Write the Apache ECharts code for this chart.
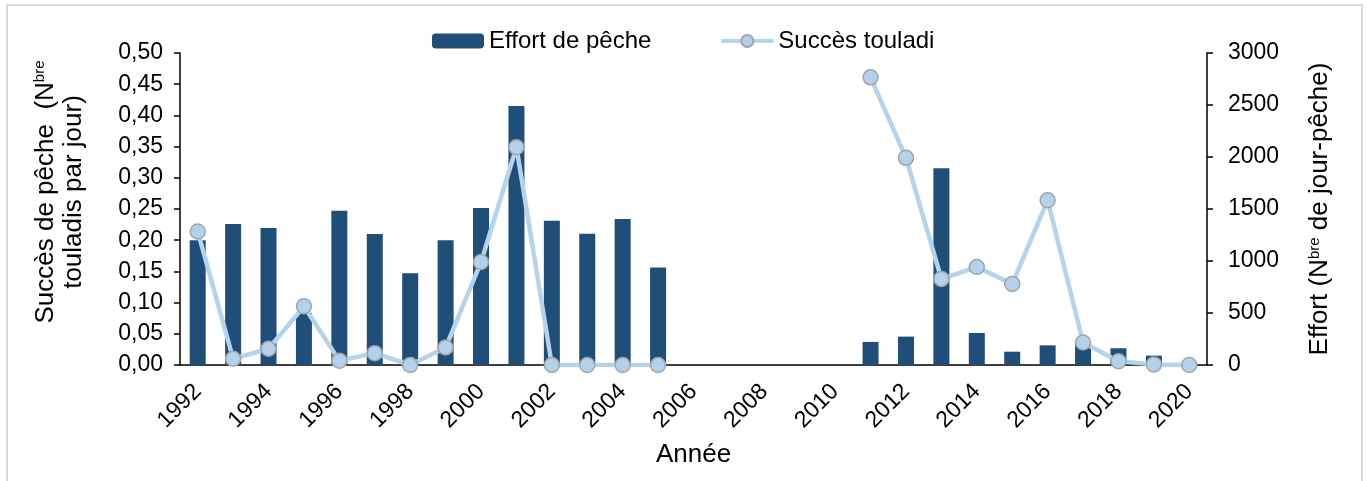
<!DOCTYPE html>
<html>
<head>
<meta charset="utf-8">
<script src="https://cdn.jsdelivr.net/npm/echarts@6/dist/echarts.min.js"></script>
<style>
  html, body { margin: 0; padding: 0; background: #fff; }
  #chart { width: 1367px; height: 481px; }
</style>
</head>
<body>
<div id="chart"></div>
<script>
const years = ['1992', '1993', '1994', '1995', '1996', '1997', '1998', '1999', '2000', '2001',
  '2002', '2003', '2004', '2005', '2006', '2007', '2008', '2009', '2010', '2011',
  '2012', '2013', '2014', '2015', '2016', '2017', '2018', '2019', '2020']

// Effort de pêche (jour-pêche), axe de droite
const effort = [1200, 1355, 1317, 500, 1484, 1259, 883, 1200, 1510, 2490,
  1388, 1262, 1403, 938, null, null, null, null, null, 222,
  273, 1891, 308, 128, 189, 200, 161, 90, null]

// Succès touladi (nbre par jour), axe de gauche
const succes = [0.214, 0.010, 0.026, 0.094, 0.007, 0.019, 0.000, 0.028, 0.165, 0.349,
  0, 0, 0, 0, null, null, null, null, null, 0.461,
  0.332, 0.138, 0.157, 0.130, 0.264, 0.036, 0.006, 0.001, 0]

const font = 'Liberation Sans, Arial, sans-serif'
const supStyle = { fontSize: 15, fontFamily: font, verticalAlign: 'top', color: '#000' }

const chart = echarts.init(document.getElementById('chart'))

chart.setOption({
  animation: false,
  backgroundColor: '#fff',
  textStyle: { fontFamily: font, color: '#000' },
  graphic: [{
    type: 'rect',
    shape: { x: 7, y: 5, width: 1355, height: 520 },
    style: { fill: 'none', stroke: '#d9d9d9', lineWidth: 2 },
    silent: true
  }],
  legend: {
    left: 427,
    top: 24,
    itemWidth: 52,
    itemHeight: 15,
    itemGap: 68,
    lineStyle: { width: 4 },
    textStyle: { fontSize: 24, fontFamily: font, color: '#000' },
    data: ['Effort de pêche', 'Succès touladi']
  },
  grid: { left: 180, right: 160, top: 53, bottom: 116 },
  xAxis: {
    type: 'category',
    data: years,
    name: 'Année',
    nameLocation: 'middle',
    nameGap: 77,
    nameTextStyle: { fontSize: 26, fontFamily: font, color: '#000' },
    axisLine: { lineStyle: { color: '#000', width: 1.5 } },
    axisTick: { interval: 0, length: 6, lineStyle: { color: '#000', width: 1.5 } },
    axisLabel: { interval: 1, rotate: 45, margin: 23, fontSize: 23, fontFamily: font, color: '#000' }
  },
  yAxis: [{
    type: 'value',
    min: 0,
    max: 0.5,
    interval: 0.05,
    position: 'left',
    name: 'Succès de pêche  (N{sup|bre}\ntouladis par jour)',
    nameLocation: 'middle',
    nameRotate: 90,
    nameGap: 92,
    nameTextStyle: {
      fontSize: 26, fontFamily: font, color: '#000', lineHeight: 28,
      padding: [0, 0, 0, 34], rich: { sup: supStyle }
    },
    axisLine: { show: true, lineStyle: { color: '#000', width: 1.5 } },
    axisTick: { show: true, length: 6, lineStyle: { color: '#000', width: 1.5 } },
    splitLine: { show: false },
    axisLabel: {
      margin: 17, fontSize: 23, fontFamily: font, color: '#000',
      formatter: v => v.toFixed(2).replace('.', ',')
    }
  }, {
    type: 'value',
    min: 0,
    max: 3000,
    interval: 500,
    position: 'right',
    name: 'Effort (N{sup|bre} de jour-pêche)',
    nameLocation: 'middle',
    nameRotate: 90,
    nameGap: 100,
    nameTextStyle: { fontSize: 26, fontFamily: font, color: '#000', rich: { sup: supStyle } },
    axisLine: { show: true, lineStyle: { color: '#000', width: 1.5 } },
    axisTick: { show: true, length: 6, lineStyle: { color: '#000', width: 1.5 } },
    splitLine: { show: false },
    axisLabel: {
      margin: 21, fontSize: 23, fontFamily: font, color: '#000',
      formatter: v => String(v)
    }
  }],
  series: [{
    name: 'Effort de pêche',
    type: 'bar',
    yAxisIndex: 1,
    data: effort,
    barWidth: 16,
    itemStyle: { color: '#1f4e79' }
  }, {
    name: 'Succès touladi',
    type: 'line',
    yAxisIndex: 0,
    data: succes,
    connectNulls: false,
    symbol: 'circle',
    symbolSize: 15,
    lineStyle: { color: '#b4d3ec', width: 4.5 },
    itemStyle: { color: '#b4d1eb', borderColor: '#a3a3a3', borderWidth: 1.5 },
    z: 3
  }]
})
</script>
</body>
</html>
